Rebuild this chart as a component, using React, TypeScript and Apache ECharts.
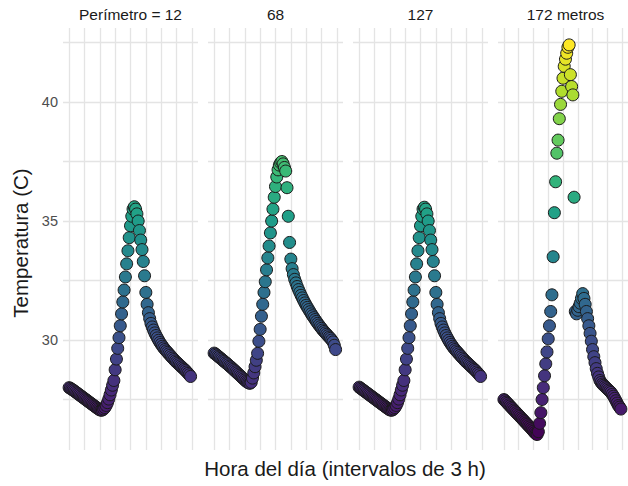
import React, { useEffect, useRef } from "react";
import * as echarts from "echarts";

// Time of day, every 15 minutes (hours)
const HOURS = Array.from({ length: 96 }, (_, i) => i / 4);

const PANEL_TITLES = ["Perímetro = 12", "68", "127", "172 metros"];

const TEMP_P12 = [
  28.0, 27.97, 27.93, 27.9, 27.86, 27.82, 27.78, 27.74, 27.7, 27.66, 27.62, 27.58, 27.54, 27.5, 27.46, 27.42, 27.38, 27.34, 27.3, 27.26, 27.22, 27.18, 27.14, 27.1, 27.07,
  27.05, 27.06, 27.1, 27.16, 27.25, 27.37, 27.52, 27.7, 27.9, 28.1,
  28.3, 28.75, 29.2, 29.65, 30.1, 30.6, 31.1, 31.6, 32.1, 32.65, 33.2, 33.75, 34.3, 34.8, 35.2, 35.5, 35.6, 35.5, 35.3, 35.0, 34.6, 34.2, 33.8, 33.3, 32.7, 32.0, 31.5, 31.15, 30.9, 30.7,
  30.55, 30.42, 30.3, 30.19, 30.09, 29.99, 29.9, 29.82, 29.74, 29.67, 29.6, 29.54, 29.48, 29.42, 29.36, 29.3, 29.24, 29.18, 29.12, 29.07, 29.02, 28.97, 28.92, 28.87, 28.82, 28.77, 28.72, 28.66, 28.6, 28.54, 28.47,
];

const TEMP_P68 = [
  29.45, 29.41, 29.37, 29.32, 29.28, 29.23, 29.19, 29.14, 29.1, 29.05, 29.01, 28.96, 28.91, 28.87, 28.82, 28.77, 28.72, 28.67, 28.62, 28.57, 28.52, 28.47, 28.42, 28.37, 28.32, 28.27, 28.23, 28.2, 28.18,
  28.22, 28.4, 28.62,
  28.88, 29.15, 29.44, 29.95, 30.45, 31.0, 31.5, 32.0, 32.45, 32.95, 33.45, 33.95, 34.5, 35.0, 35.5, 36.0, 36.45, 36.85, 37.15, 37.35, 37.45, 37.5, 37.4, 37.25, 37.1, 36.4, 35.2, 34.1, 33.4, 33.0, 32.75, 32.55, 32.4,
  32.25, 32.12, 32.0, 31.88, 31.77, 31.66, 31.56, 31.46, 31.37, 31.28, 31.19, 31.1, 31.02, 30.94, 30.86, 30.78, 30.7, 30.63, 30.56, 30.49, 30.42, 30.36, 30.3, 30.24, 30.18, 30.12, 30.07, 30.0, 29.92, 29.78, 29.6,
];

const TEMP_P127 = [
  28.02, 27.98, 27.94, 27.9, 27.86, 27.82, 27.78, 27.74, 27.7, 27.66, 27.62, 27.58, 27.54, 27.5, 27.46, 27.42, 27.38, 27.34, 27.3, 27.26, 27.22, 27.18, 27.14, 27.1, 27.07,
  27.05, 27.06, 27.1, 27.16, 27.25, 27.37, 27.52, 27.7, 27.9, 28.1,
  28.3, 28.75, 29.2, 29.65, 30.1, 30.6, 31.1, 31.6, 32.1, 32.65, 33.2, 33.75, 34.3, 34.8, 35.2, 35.5, 35.58, 35.5, 35.3, 35.0, 34.6, 34.2, 33.8, 33.3, 32.7, 32.0, 31.5, 31.15, 30.9, 30.7,
  30.55, 30.42, 30.3, 30.19, 30.09, 29.99, 29.9, 29.82, 29.74, 29.67, 29.6, 29.54, 29.48, 29.42, 29.36, 29.3, 29.24, 29.18, 29.12, 29.07, 29.02, 28.97, 28.92, 28.87, 28.82, 28.77, 28.72, 28.66, 28.6, 28.54, 28.47,
];

const TEMP_P172 = [
  27.5, 27.45, 27.39, 27.34, 27.28, 27.23, 27.17, 27.12, 27.06, 27.01, 26.95, 26.9, 26.84, 26.79, 26.73, 26.68, 26.62, 26.57, 26.51, 26.46, 26.4, 26.35, 26.29, 26.23, 26.17, 26.11, 26.06, 26.03,
  26.15, 26.5, 26.95, 27.5, 28.0, 28.5, 29.0, 29.5, 30.05, 30.6, 31.2, 31.9,
  33.5, 35.35, 36.65, 37.85, 38.4, 39.3, 39.9, 40.45,
  41.0, 41.5, 41.8, 42.05, 42.3, 42.4, 41.15, 40.65, 40.3, 36.0, 31.2, 31.1, 31.25, 31.4, 31.55, 31.75, 31.95,
  31.75, 31.5, 31.2, 30.9, 30.6, 30.28, 29.95, 29.6, 29.3, 29.05, 28.8, 28.6, 28.45, 28.3, 28.22, 28.15, 28.1, 28.05, 28.0, 27.95, 27.9, 27.85, 27.8, 27.72, 27.64, 27.55, 27.45, 27.35, 27.25, 27.18, 27.1,
];

const X_GRID_TICKS = [0, 3, 6, 9, 12, 15, 18, 21, 24];
const Y_GRID_TICKS = [27.5, 30, 32.5, 35, 37.5, 40, 42.5];
const Y_TICK_LABELS = [30, 35, 40];

const VIRIDIS = [
  "#440154", "#482878", "#3e4989", "#31688e", "#26828e",
  "#1f9e89", "#35b779", "#6ece58", "#b5de2b", "#fde725",
];

const FONT = "Liberation Sans, Arial, Helvetica, sans-serif";

export default function App() {
  const ref = useRef<HTMLDivElement>(null);

  useEffect(() => {
    if (!ref.current) return;
    const chart = echarts.init(ref.current, null, { renderer: "svg" });
    const panels = [TEMP_P12, TEMP_P68, TEMP_P127, TEMP_P172];
    const lefts = [63, 208, 353, 498];
    const gridTop = 28;
    const gridW = 135;
    const gridH = 422;
    const gridLine = { color: "#e4e4e4", width: 1.3 };

    const option: any = {
      animation: false,
      backgroundColor: "#ffffff",
      textStyle: { fontFamily: FONT },
      grid: lefts.map((l) => ({ left: l, top: gridTop, width: gridW, height: gridH, containLabel: false })),
      xAxis: lefts.map((_, i) => ({
        type: "value",
        gridIndex: i,
        min: -1.2,
        max: 25.2,
        axisLine: { show: false },
        axisTick: { show: false, customValues: X_GRID_TICKS },
        axisLabel: { show: false },
        splitLine: { show: true, lineStyle: gridLine },
      })),
      yAxis: lefts.map((_, i) => ({
        type: "value",
        gridIndex: i,
        min: 25.38,
        max: 43.11,
        axisLine: { show: false },
        axisTick: { show: false, customValues: Y_GRID_TICKS },
        axisLabel: {
          show: i === 0,
          customValues: Y_TICK_LABELS,
          color: "#4d4d4d",
          fontSize: 14.5,
          margin: 5,
          fontFamily: FONT,
        },
        splitLine: { show: true, lineStyle: gridLine },
      })),
      visualMap: {
        show: false,
        type: "continuous",
        min: 26.0,
        max: 42.4,
        dimension: 1,
        seriesIndex: [0, 1, 2, 3],
        inRange: { color: VIRIDIS },
      },
      series: panels.map((vals, i) => ({
        type: "scatter",
        xAxisIndex: i,
        yAxisIndex: i,
        symbol: "circle",
        symbolSize: 12,
        data: HOURS.map((h, j) => [h, vals[j]]),
        itemStyle: { borderColor: "#1a1a1a", borderWidth: 1, opacity: 1 },
        emphasis: { disabled: true },
      })),
      graphic: [
        ...PANEL_TITLES.map((t, i) => ({
          type: "text",
          x: lefts[i] + gridW / 2,
          y: 14,
          style: {
            text: t,
            fill: "#1a1a1a",
            font: `15.5px ${FONT}`,
            textAlign: "center",
            textVerticalAlign: "middle",
          },
        })),
        {
          type: "text",
          x: 345,
          y: 468,
          style: {
            text: "Hora del día (intervalos de 3 h)",
            fill: "#1a1a1a",
            font: `20.5px ${FONT}`,
            textAlign: "center",
            textVerticalAlign: "middle",
          },
        },
        {
          type: "text",
          x: 20,
          y: 243,
          rotation: Math.PI / 2,
          style: {
            text: "Temperatura (C)",
            fill: "#1a1a1a",
            font: `20.5px ${FONT}`,
            textAlign: "center",
            textVerticalAlign: "middle",
          },
        },
      ],
    };

    chart.setOption(option);
    return () => chart.dispose();
  }, []);

  return (
    <div
      ref={ref}
      style={{ position: "fixed", left: 0, top: 0, width: 628, height: 486 }}
    />
  );
}
